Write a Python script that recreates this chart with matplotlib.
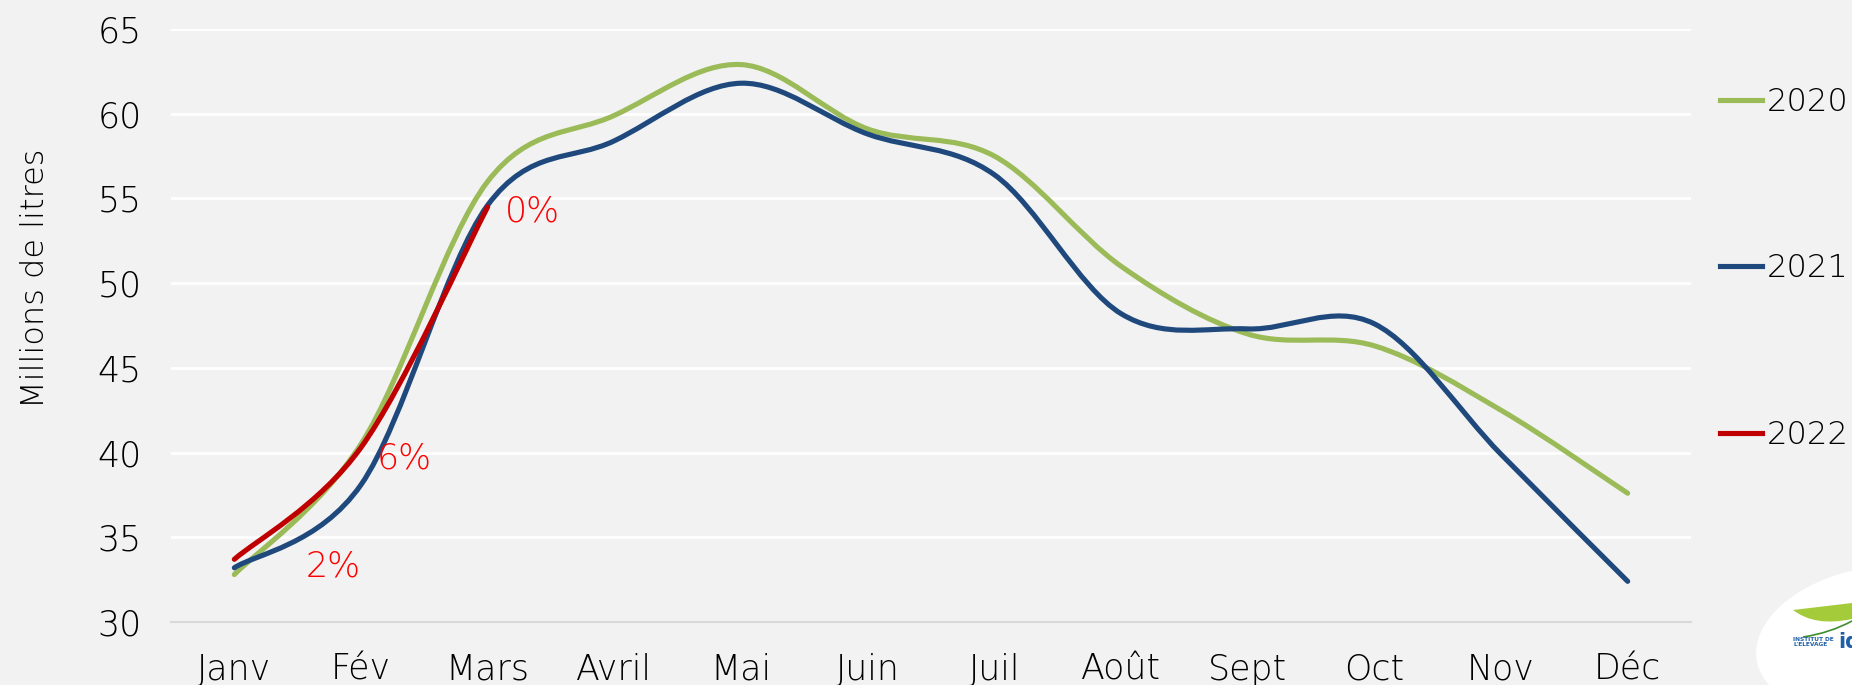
import numpy as np
import matplotlib.pyplot as plt
from matplotlib.path import Path
from matplotlib.patches import PathPatch, Ellipse
from matplotlib.lines import Line2D

plt.rcParams['font.family'] = ['DejaVu Sans']
plt.rcParams['font.weight'] = 'light'

# donnees (millions de litres)
mois = ['Janv', 'Fév', 'Mars', 'Avril', 'Mai', 'Juin', 'Juil', 'Août', 'Sept', 'Oct', 'Nov', 'Déc']
v2020 = [32.8, 40.5, 56.0, 59.9, 62.9, 59.1, 57.5, 51.0, 47.0, 46.3, 42.5, 37.6]
v2021 = [33.2, 38.1, 54.6, 58.4, 61.8, 58.8, 56.4, 48.2, 47.3, 47.6, 39.9, 32.4]
v2022 = [33.7, 40.3, 54.5]
etiquettes = ['2%', '6%', '0%']
decalages = [(71, -5), (31, -8), (32, -3)]   # en points

couleurs = {'2020': '#9BBB59', '2021': '#1F497D', '2022': '#C00000'}
fond = '#F2F2F2'


def courbe_lissee(x, y):
    # courbe de Bezier passant par les points (lissage facon Excel)
    pts = np.column_stack([x, y]).astype(float)
    n = len(pts)
    verts = [pts[0]]
    codes = [Path.MOVETO]
    for i in range(n - 1):
        p0 = pts[i]
        p3 = pts[i + 1]
        pm = pts[i - 1] if i > 0 else pts[i]
        pp = pts[i + 2] if i + 2 < n else pts[i + 1]
        c1 = p0 + (p3 - pm) / 6
        c2 = p3 - (pp - p0) / 6
        verts += [c1, c2, p3]
        codes += [Path.CURVE4] * 3
    return Path(verts, codes)


fig = plt.figure(figsize=(18.52, 6.85), dpi=100, facecolor=fond)
ax = fig.add_axes([171 / 1852, 63 / 685, 1520 / 1852, 593 / 685])
ax.set_facecolor(fond)

for nom, serie in [('2020', v2020), ('2021', v2021), ('2022', v2022)]:
    xs = np.arange(len(serie))
    patch = PathPatch(courbe_lissee(xs, serie), fill=False, edgecolor=couleurs[nom],
                      lw=3.7, capstyle='round', joinstyle='round', zorder=3)
    ax.add_patch(patch)

for i, txt in enumerate(etiquettes):
    ax.annotate(txt, xy=(i, v2022[i]), xytext=decalages[i], textcoords='offset points',
                ha='center', va='center', color='#FF0000', fontsize=25, zorder=4)

ax.set_xlim(-0.5, 11.5)
ax.set_ylim(30, 65)
ax.set_yticks(np.arange(30, 66, 5))
ax.set_xticks(np.arange(12))
ax.set_xticklabels(mois)
ax.tick_params(axis='both', length=0, labelsize=25, colors='black')
ax.tick_params(axis='y', pad=21)
ax.tick_params(axis='x', pad=22)
ax.grid(axis='y', color='white', lw=2)
ax.set_axisbelow(True)
for s in ['top', 'right', 'left']:
    ax.spines[s].set_visible(False)
ax.spines['bottom'].set_color('#D9D9D9')
ax.spines['bottom'].set_linewidth(1.5)

fig.text(35 / 1852, 1 - 278 / 685, 'Millions de litres', rotation=90,
         ha='center', va='center', fontsize=23)

poignees = [Line2D([], [], color=couleurs[k], lw=3.7) for k in couleurs]
fig.legend(poignees, list(couleurs.keys()), loc='upper left',
           bbox_to_anchor=(1720 / 1852, 1 - 87 / 685), frameon=False,
           fontsize=23, handlelength=1.3, handletextpad=0.15,
           labelspacing=4.27, borderpad=0, borderaxespad=0)

# logo en bas a droite
logo = Ellipse((1875, 45), 240, 145, angle=10, transform=None, facecolor='white',
               edgecolor='none', zorder=1)
fig.patches.append(logo)
feuille = Path([(1793, 75), (1852, 82), (1852, 66), (1815, 58), (1793, 75)],
               [Path.MOVETO, Path.LINETO, Path.LINETO, Path.CURVE3, Path.CURVE3])
fig.patches.append(PathPatch(feuille, transform=None, facecolor='#A4CB39',
                             edgecolor='none', zorder=2))
trait = Path([(1803, 48), (1830, 52), (1852, 64)], [Path.MOVETO, Path.CURVE3, Path.CURVE3])
fig.patches.append(PathPatch(trait, transform=None, fill=False, edgecolor='#3E8E2F',
                             lw=1.2, zorder=2))
fig.text(1793 / 1852, 1 - 642 / 685, "INSTITUT DE\nL'ELEVAGE", fontsize=4.2,
         color='#1F5FA8', fontweight='bold', va='center', ha='left', linespacing=1.1)
fig.text(1838 / 1852, 1 - 642 / 685, 'id', fontsize=15, color='#1F5FA8',
         fontweight='bold', va='center', ha='left')

fig.savefig('out.png', dpi=100, facecolor=fond)
